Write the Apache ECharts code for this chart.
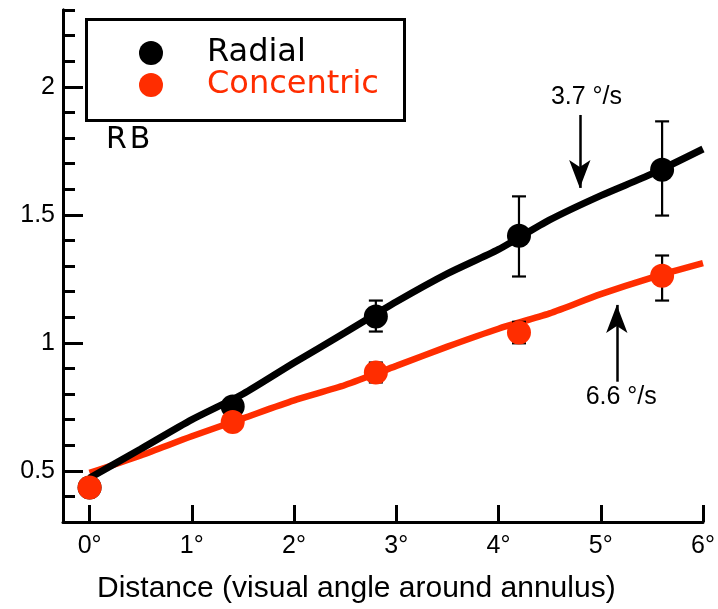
<!DOCTYPE html>
<html>
<head>
<meta charset="utf-8">
<script src="https://cdn.jsdelivr.net/npm/echarts@6/dist/echarts.min.js"></script>
<style>
  html, body { margin: 0; padding: 0; background: #fff; }
  #chart { width: 718px; height: 609px; }
</style>
</head>
<body>
<div id="chart"></div>
<script>
// Measured means at each eccentricity (degrees) with error bar extents
const distances = [0, 1.4, 2.8, 4.2, 5.6];
const radialMeans = [0.435, 0.751, 1.103, 1.418, 1.676];
const radialLow = [0.435, 0.751, 1.044, 1.259, 1.497];
const radialHigh = [0.435, 0.751, 1.165, 1.572, 1.865];
const concentricMeans = [0.435, 0.691, 0.884, 1.040, 1.262];
const concentricLow = [0.435, 0.691, 0.845, 0.998, 1.165];
const concentricHigh = [0.435, 0.691, 0.923, 1.082, 1.341];

// Model curves
const curveX = [0, 0.5, 1, 1.5, 2, 2.5, 3, 3.5, 4, 4.5, 5, 5.5, 6];
const radialCurve = [0.472, 0.585, 0.7, 0.8, 0.922, 1.04, 1.16, 1.27, 1.365, 1.48, 1.575, 1.66, 1.757];
const concentricCurve = [0.492, 0.56, 0.635, 0.705, 0.775, 0.835, 0.91, 0.985, 1.055, 1.115, 1.19, 1.255, 1.311];

const xTicks = [0, 1, 2, 3, 4, 5, 6];
const yMajorTicks = [0.5, 1, 1.5, 2];
const yMinorTicks = [0.3, 0.4, 0.6, 0.7, 0.8, 0.9, 1.1, 1.2, 1.3, 1.4, 1.6, 1.7, 1.8, 1.9, 2.1, 2.2, 2.3];

// Annotation arrows: [x, yFrom, yTo]
const fastArrow = [4.795, 1.89, 1.605];
const slowArrow = [5.157, 0.848, 1.148];

const RED = '#ff2d00';
const BLACK = '#000000';
const SANS = '"Liberation Sans", Arial, Helvetica, sans-serif';
const LEGEND_FONT = '"DejaVu Sans", "Noto Sans", sans-serif';

const pair = (xs, ys) => xs.map((x, i) => [x, ys[i]]);

function errorBars(low, high, color) {
  return {
    type: 'custom',
    silent: true,
    z: 3,
    data: distances.map((x, i) => [x, low[i], high[i]]),
    renderItem: function (params, api) {
      const lo = api.value(1), hi = api.value(2);
      if (hi - lo < 1e-6) return null;
      const p1 = api.coord([api.value(0), hi]);
      const p2 = api.coord([api.value(0), lo]);
      const w = 7;
      const style = { stroke: color, lineWidth: 2.2, fill: null };
      return {
        type: 'group',
        children: [
          { type: 'line', shape: { x1: p1[0], y1: p1[1], x2: p2[0], y2: p2[1] }, style },
          { type: 'line', shape: { x1: p1[0] - w, y1: p1[1], x2: p1[0] + w, y2: p1[1] }, style },
          { type: 'line', shape: { x1: p2[0] - w, y1: p2[1], x2: p2[0] + w, y2: p2[1] }, style }
        ]
      };
    }
  };
}

function arrowSeries(arrow, label, labelY, labelX) {
  return {
    type: 'line',
    data: [],
    silent: true,
    markLine: {
      silent: true,
      animation: false,
      symbol: ['none', 'arrow'],
      symbolSize: [16, 28],
      lineStyle: { color: BLACK, width: 2.5, type: 'solid' },
      label: { show: false },
      data: [[{ coord: [arrow[0], arrow[1]] }, { coord: [arrow[0], arrow[2]] }]]
    },
    markPoint: {
      silent: true,
      animation: false,
      symbol: 'circle',
      symbolSize: 1,
      itemStyle: { color: 'rgba(0,0,0,0)' },
      label: {
        show: true,
        position: 'inside',
        formatter: label,
        color: BLACK,
        fontFamily: SANS,
        fontSize: 25
      },
      data: [{ coord: [labelX, labelY] }]
    }
  };
}

const chart = echarts.init(document.getElementById('chart'), null, { renderer: 'canvas' });

const axisLineStyle = { color: BLACK, width: 3 };

chart.setOption({
  animation: false,
  backgroundColor: '#ffffff',
  grid: { left: 63, right: 15, top: 10, bottom: 87 },
  legend: {
    orient: 'vertical',
    left: 139,
    top: 37,
    padding: 0,
    itemGap: 0,
    itemWidth: 24,
    itemHeight: 24,
    data: [
      { name: 'Radial', icon: 'circle', itemStyle: { opacity: 1 }, textStyle: { color: BLACK } },
      { name: 'Concentric', icon: 'circle', itemStyle: { opacity: 1 }, textStyle: { color: RED } }
    ],
    textStyle: { fontFamily: LEGEND_FONT, fontSize: 32, lineHeight: 32, padding: [0, 0, 0, 39] }
  },
  graphic: [
    {
      type: 'rect',
      left: 84, top: 17,
      shape: { width: 318, height: 101 },
      style: { fill: null, stroke: BLACK, lineWidth: 3 },
      z: 10
    },
    {
      type: 'text',
      left: 106, top: 125,
      style: { text: 'R\u200aB', fill: BLACK, font: '30px "DejaVu Sans", sans-serif' }
    },
    {
      type: 'text',
      left: 97, top: 574,
      style: { text: 'Distance (visual angle around annulus)', fill: BLACK, font: '30px "Liberation Sans", Arial, sans-serif' }
    }
  ],
  xAxis: {
    type: 'value',
    min: -0.26,
    max: 6,
    axisLine: { show: true, onZero: false, lineStyle: axisLineStyle },
    axisTick: { show: true, inside: true, length: 17, customValues: xTicks, lineStyle: { color: BLACK, width: 3 } },
    axisLabel: {
      customValues: xTicks,
      formatter: v => v + '°',
      color: BLACK, fontFamily: SANS, fontSize: 25, margin: 12
    },
    splitLine: { show: false }
  },
  yAxis: [
    {
      type: 'value',
      min: 0.3,
      max: 2.3,
      axisLine: { show: true, onZero: false, lineStyle: axisLineStyle },
      axisTick: { show: true, inside: true, length: 20, customValues: yMajorTicks, lineStyle: { color: BLACK, width: 3 } },
      axisLabel: {
        customValues: yMajorTicks,
        formatter: v => String(v),
        color: BLACK, fontFamily: SANS, fontSize: 25, margin: 8
      },
      splitLine: { show: false }
    },
    {
      type: 'value',
      min: 0.3,
      max: 2.3,
      position: 'left',
      axisLine: { show: true, onZero: false, lineStyle: axisLineStyle },
      axisTick: { show: true, inside: true, length: 12, customValues: yMinorTicks, lineStyle: { color: BLACK, width: 3 } },
      axisLabel: { show: false },
      splitLine: { show: false }
    }
  ],
  series: [
    {
      name: 'Concentric fit',
      type: 'line',
      data: pair(curveX, concentricCurve),
      smooth: 0.25,
      showSymbol: false,
      lineStyle: { color: RED, width: 6.5 },
      z: 1
    },
    {
      name: 'Radial fit',
      type: 'line',
      data: pair(curveX, radialCurve),
      smooth: 0.25,
      showSymbol: false,
      lineStyle: { color: BLACK, width: 7 },
      z: 2
    },
    errorBars(radialLow, radialHigh, BLACK),
    errorBars(concentricLow, concentricHigh, BLACK),
    {
      name: 'Radial',
      type: 'scatter',
      data: pair(distances, radialMeans),
      symbol: 'circle',
      symbolSize: 24,
      itemStyle: { color: BLACK, opacity: 1 },
      z: 4
    },
    {
      name: 'Concentric',
      type: 'scatter',
      data: pair(distances, concentricMeans),
      symbol: 'circle',
      symbolSize: 24,
      itemStyle: { color: RED, opacity: 1 },
      z: 5
    },
    arrowSeries(fastArrow, '3.7 °/s', 1.961, 4.86),
    arrowSeries(slowArrow, '6.6 °/s', 0.789, 5.2)
  ]
});
</script>
</body>
</html>
